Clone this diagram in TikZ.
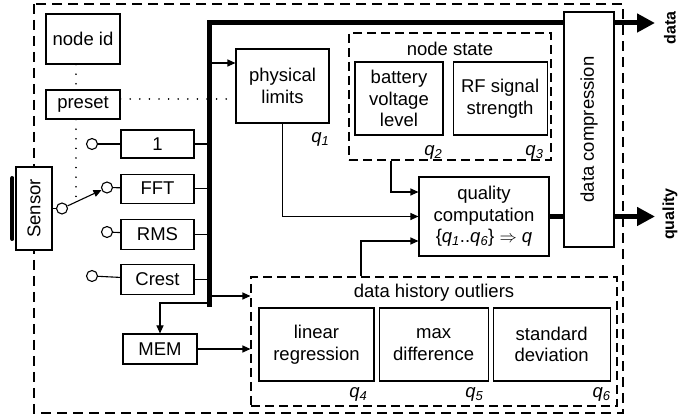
\documentclass[tikz,border=0pt]{standalone}
\usepackage{fontspec}
\setmainfont{Liberation Sans}
\usetikzlibrary{arrows.meta, positioning}

\newcommand{\qsub}[1]{\textit{q}\textsubscript{\textit{#1}}}

\begin{document}
\begin{tikzpicture}[
    x=1pt, y=-1pt,
    node distance=15pt and 4pt,
    every node/.style={font=\fontsize{18.5}{21.5}\selectfont},
    box/.style={rectangle, draw, fill=white, line width=1.1pt, inner sep=2pt, align=center},
    inbox/.style={box, minimum width=73pt, minimum height=29pt},
    group/.style={rectangle, draw, dash pattern=on 9pt off 5pt, line width=1.1pt, inner sep=0pt},
    port/.style={circle, draw, fill=white, line width=1.1pt, inner sep=0pt, minimum size=11pt},
    qlab/.style={inner sep=0pt},
    outlab/.style={inner sep=0pt, font=\fontsize{16}{18}\selectfont\bfseries},
    wire/.style={line width=1.1pt},
    arrow/.style={wire, -{Triangle[length=8pt, width=7pt]}},
    bus/.style={line width=5pt},
    busout/.style={bus, -{Triangle[length=18pt, width=18pt]}},
    hint/.style={line width=1.6pt, line cap=round, dash pattern=on 0.1pt off 9.5pt},
]
\useasboundingbox (0,0) rectangle (678,419);
\draw[group, dash pattern=on 10pt off 6pt] (34,4) rectangle (623,413);

\node[box, minimum width=74pt, minimum height=50pt] (nodeid) at (83,39) {node id};
\node[box, minimum width=74pt, minimum height=29pt] (preset) at (83,104.5) {preset};
\node[inbox, minimum height=28pt] (one) at (157.5,144) {1};
\node[inbox, below=of one] (fft) {FFT};
\node[inbox, minimum height=30pt, below=of fft] (rms) {RMS};
\node[inbox, minimum height=30pt, below=14pt of rms] (crest) {Crest};
\node[box, minimum width=36pt, minimum height=83pt] (sensor) at (34,208.5) {\rotatebox{90}{Sensor}};
\node[box, minimum width=74pt, minimum height=30pt] (mem) at (160,349) {MEM};
\node[box, minimum width=93pt, minimum height=74pt] (phys) at (282.5,86) {physical\\limits};
\node[group, minimum width=202pt, minimum height=127pt] (state) at (450,96.5) {};
\node[box, minimum width=88pt, minimum height=73pt] (battery) at (399,98.5) {battery\\voltage\\level};
\node[box, minimum width=94pt, minimum height=73pt, right=9pt of battery] (rf) {RF signal\\strength};
\node[box, minimum width=130pt, minimum height=79pt] (qual) at (484,216.5)
    {quality\\computation\\\{\qsub{1}..\qsub{6}\} $\Rightarrow$ \textit{q}};
\node[box, minimum width=50pt, minimum height=235pt] (comp) at (589,129.5) {\rotatebox{90}{data compression}};
\node[group, minimum width=366pt, minimum height=129pt] (hist) at (434,341.5) {};
\node[box, minimum width=115pt, minimum height=73pt] (linreg) at (316.5,344.5) {linear\\regression};
\node[box, minimum width=109pt, minimum height=73pt, right=4pt of linreg] (maxdiff) {max\\difference};
\node[box, minimum width=117pt, minimum height=73pt, right=4pt of maxdiff] (stddev) {standard\\deviation};

\node[qlab, below=9pt of state.north] (statetitle) {node state};
\node[qlab, below=7pt of hist.north] (histtitle) {data history outliers};
\node[qlab, below left=9pt and 0pt of phys.south east] (q1) {\qsub{1}};
\node[qlab, below left=10pt and 1pt of battery.south east] (q2) {\qsub{2}};
\node[qlab, below left=10pt and 4pt of rf.south east] (q3) {\qsub{3}};
\node[qlab, below left=6pt and 7pt of linreg.south east] (q4) {\qsub{4}};
\node[qlab, below left=6pt and 5pt of maxdiff.south east] (q5) {\qsub{5}};
\node[qlab, below left=6pt and 0pt of stddev.south east] (q6) {\qsub{6}};
\node[outlab] (datalab) at (670,28) {\rotatebox{90}{data}};
\node[outlab] (quallab) at (670,214) {\rotatebox{90}{quality}};

\node[port] (sw) at (62,208.5) {};
\node[port] (p1) at (92,144) {};
\node[port] (pfft) at (107,187.5) {};
\node[port] (prms) at (107,232) {};
\node[port] (pcrest) at (92,276) {};

\coordinate (bustop) at (209,23);
\coordinate (busbot) at (209,307);
\coordinate (lever) at (76,201);
\coordinate (dataout) at (655,23);
\coordinate (qualout) at (655,216.5);

\draw[line width=4pt, line cap=round] ([xshift=-3pt, yshift=30.5pt]sensor.west) -- ([xshift=-3pt, yshift=-30.5pt]sensor.west);
\draw[wire] (sensor.east) -- (sw);
\draw[arrow] (sw) -- (pfft);
\draw[hint] (nodeid.south -| lever) -- (preset.north -| lever);
\draw[hint] (preset.south -| lever) -- (lever);
\draw[hint] (preset.east |- 0,99) -- (phys.west |- 0,99);

\draw[wire] (p1) -- (one);
\draw[wire] (pfft) -- (fft);
\draw[wire] (prms) -- (rms);
\draw[wire] (pcrest) -- (crest);
\draw[wire] (one) -- (one -| bustop);
\draw[wire] (fft) -- (fft -| bustop);
\draw[wire] (rms) -- (rms -| bustop);
\draw[wire] (crest) -- (crest -| bustop);

\draw[bus] (busbot) -- (bustop) -- (comp.west |- bustop);
\draw[busout] (comp.east |- bustop) -- (dataout);
\draw[bus] (qual) -- (comp.west |- qual);
\draw[busout] (comp.east |- qual) -- (qualout);

\draw[arrow] (bustop |- 0,63) -- (phys.west |- 0,63);
\draw[arrow] (phys) |- (qual.west);
\draw[arrow] (state.south -| 391,0) |- (qual.west |- 0,192);
\draw[arrow] (hist.north -| 361,0) |- (qual.west |- 0,241);
\draw[arrow] (bustop |- 0,296) -- (hist.west |- 0,296);
\draw[arrow] (bustop |- 0,303) -| (mem);
\draw[arrow] (mem) -- (mem -| hist.west);
\end{tikzpicture}
\end{document}
